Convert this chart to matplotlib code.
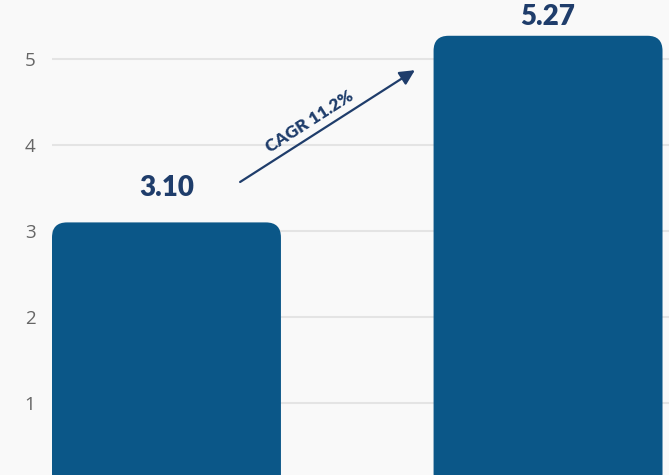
import matplotlib.pyplot as plt
from matplotlib.patches import FancyBboxPatch

# data
categories = ["2020", "2025"]
values = [3.10, 5.27]
value_labels = ["3.10", "5.27"]
yticks = [1, 2, 3, 4, 5]
cagr_text = "CAGR 11.2%"

bar_color = "#0b5788"
label_color = "#1f3d6b"
bg = "#f9f9f9"

fig = plt.figure(figsize=(6.69, 4.75), dpi=100, facecolor=bg)
ax = fig.add_axes([52 / 669, 0, 1 - 52 / 669, 1])
ax.set_facecolor(bg)

x = list(range(len(categories)))
bars = ax.bar(x, values, width=0.6, color=bar_color)

ymax = 5.686
ax.set_xlim(-0.3, 1.317)
ax.set_ylim(0.163, ymax)

# swap plain bars for ones with rounded tops
px_x = 381.5  # pixels per x unit
px_y = 86.0   # pixels per y unit
r = 15 / px_x
for b in bars:
    b.set_visible(False)
    p = FancyBboxPatch((b.get_x(), b.get_y()), b.get_width(), b.get_height(),
                       boxstyle=f"round,pad=0,rounding_size={r}",
                       mutation_aspect=px_x / px_y,
                       facecolor=bar_color, edgecolor="none", zorder=3)
    ax.add_patch(p)

# value labels, pushed down when they'd run off the top
for xi, v, lab in zip(x, values, value_labels):
    ly = min(v + 0.25, ymax - 0.35)
    ax.text(xi, ly, lab, ha="center", va="bottom", fontsize=20,
            fontweight="heavy", color=label_color, family="Lato", zorder=4)

# CAGR arrow
ax.annotate("", xy=(0.651, values[1] - 0.40), xytext=(0.193, values[0] + 0.47),
            arrowprops=dict(arrowstyle="-|>,head_length=0.9,head_width=0.45",
                            color=label_color, lw=1.6, shrinkA=0, shrinkB=0),
            zorder=4)
ax.text(0.375, 4.27, cagr_text, rotation=32.6, rotation_mode="anchor",
        ha="center", va="center", fontsize=12.5, fontweight="heavy",
        color=label_color, family="Lato", zorder=4)

ax.set_yticks(yticks)
ax.set_yticklabels([str(t) for t in yticks], fontsize=13.5, color="#666666",
                   family="Open Sans")
ax.tick_params(axis="y", length=0, pad=12)
ax.set_xticks([])
ax.grid(axis="y", color="#e4e4e4", linewidth=1.5, zorder=0)
ax.set_axisbelow(True)
for s in ax.spines.values():
    s.set_visible(False)

fig.savefig("out.png", dpi=100, facecolor=bg)
